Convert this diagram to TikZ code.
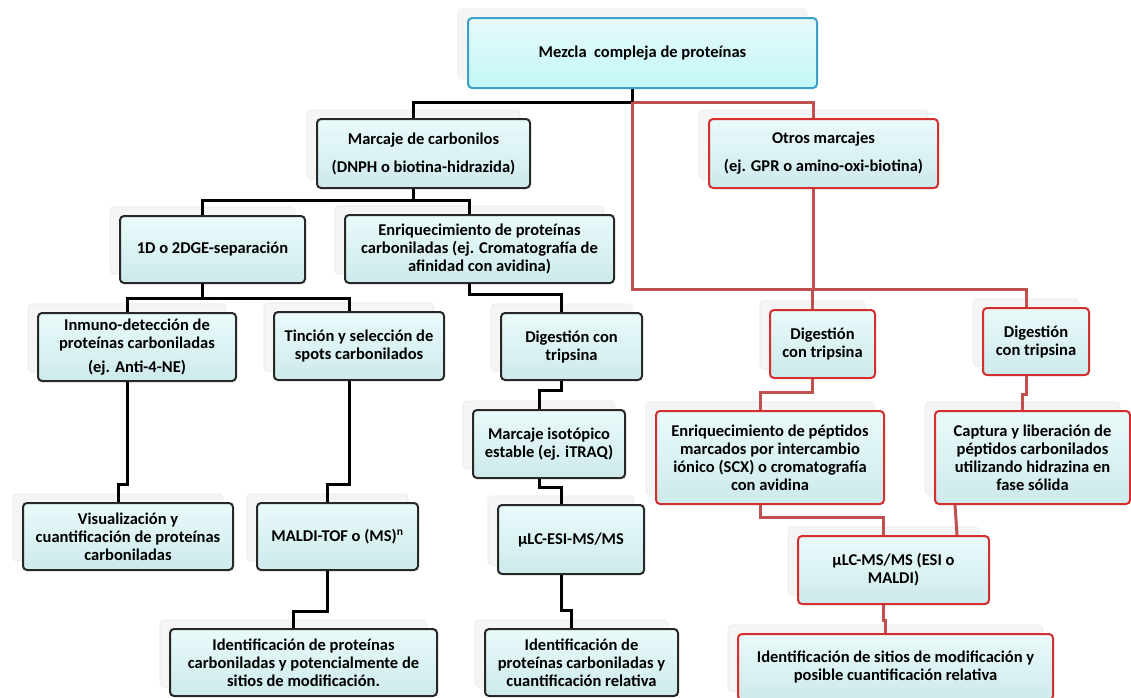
\documentclass[tikz,border=0pt]{standalone}
\usepackage{fontspec}
\setmainfont{Carlito}
\usetikzlibrary{shadows,calc}

\definecolor{celeste}{RGB}{216,246,247}
\definecolor{bordegris}{RGB}{40,40,40}
\definecolor{borderojo}{RGB}{212,46,46}
\definecolor{bordeazul}{RGB}{60,160,200}
\definecolor{linearoja}{RGB}{192,80,77}

\tikzset{
  caja/.style={draw=bordegris, line width=2pt, rounded corners=4pt,
    top color=celeste!55!white, bottom color=celeste!95!black!100, anchor=north west,
    inner sep=0pt, align=center, font=\fontsize{16.5}{18}\selectfont\bfseries,
    copy shadow={shadow xshift=-10pt, shadow yshift=9pt, draw=black!9,
      fill=black!4, line width=0.6pt}},
  cajaroja/.style={caja, draw=borderojo},
  cajaazul/.style={caja, draw=bordeazul, top color=celeste!60!white,
    bottom color=celeste!90!cyan},
  linea/.style={line width=3pt, line join=miter},
  linearoja/.style={linea, draw=linearoja}
}

\begin{document}
\begin{tikzpicture}[x=1pt, y=-1pt]
  \useasboundingbox[fill=white] (0,0) rectangle (1131,697);

  % nivel 0
  \node[cajaazul, minimum width=349, minimum height=70] (mezcla) at (467,17) {Mezcla \ compleja de prote\'inas};

  % nivel 1
  \node[caja, minimum width=213, minimum height=69] (marcaje) at (316,118) {Marcaje de carbonilos\\[10pt](DNPH o biotina-hidrazida)};
  \node[cajaroja, minimum width=229, minimum height=69] (otros) at (708,118) {Otros marcajes\\[10pt](ej. GPR o amino-oxi-biotina)};

  % nivel 2
  \node[caja, minimum width=185, minimum height=67] (separacion) at (119,215) {1D o 2DGE-separaci\'on};
  \node[caja, minimum width=269, minimum height=68] (enriq) at (344,214) {Enriquecimiento de prote\'inas\\carboniladas (ej. Cromatograf\'ia de\\afinidad con avidina)};

  % nivel 3
  \node[caja, minimum width=198, minimum height=68] (inmuno) at (37,312) {Inmuno-detecci\'on de\\prote\'inas carboniladas\\[6pt](ej. Anti-4-NE)};
  \node[caja, minimum width=170, minimum height=68] (tincion) at (273,311) {Tinci\'on y selecci\'on de\\spots carbonilados};
  \node[caja, minimum width=141, minimum height=67] (digA) at (500,312) {Digesti\'on con\\tripsina};
  \node[cajaroja, minimum width=105, minimum height=68] (digB) at (769,309) {Digesti\'on\\con tripsina};
  \node[cajaroja, minimum width=106, minimum height=67] (digC) at (982,307) {Digesti\'on\\con tripsina};

  % nivel 4
  \node[caja, minimum width=152, minimum height=68] (isotopico) at (472,409) {Marcaje isot\'opico\\estable (ej. iTRAQ)};
  \node[cajaroja, minimum width=228, minimum height=93] (enriqpep) at (655,410) {Enriquecimiento de p\'eptidos\\marcados por intercambio\\i\'onico (SCX) o cromatograf\'ia\\con avidina};
  \node[cajaroja, minimum width=195, minimum height=93] (captura) at (934,410) {Captura y liberaci\'on de\\p\'eptidos carbonilados\\utilizando hidrazina en\\fase s\'olida};

  % nivel 5
  \node[caja, minimum width=210, minimum height=67] (visual) at (22,502) {Visualizaci\'on y\\cuantificaci\'on de prote\'inas\\carboniladas};
  \node[caja, minimum width=161, minimum height=67] (maldi) at (256,502) {MALDI-TOF o (MS)\textsuperscript{n}};
  \node[caja, minimum width=146, minimum height=69] (lcesi) at (497,504) {µLC-ESI-MS/MS};
  \node[cajaroja, minimum width=191, minimum height=68] (lcms) at (797,535) {µLC-MS/MS (ESI o\\MALDI)};

  % nivel 6
  \node[caja, minimum width=267, minimum height=67] (identA) at (169,628) {Identificaci\'on de prote\'inas\\carboniladas y potencialmente de\\sitios de modificaci\'on.};
  \node[caja, minimum width=193, minimum height=67] (identB) at (484,628) {Identificaci\'on de\\prote\'inas carboniladas y\\cuantificaci\'on relativa};
  \node[cajaroja, minimum width=315, minimum height=66] (identC) at (737,633) {Identificaci\'on de sitios de modificaci\'on y\\posible cuantificaci\'on relativa};

  % conectores negros
  \coordinate (nudo) at ($(mezcla.south)+(-10,13)$);
  \draw[linea] ([xshift=-10pt]mezcla.south) -- (nudo) -| ([xshift=-10pt]marcaje.north);
  \draw[linea] ([xshift=-10pt]marcaje.south) -- ++(0,11) -| ([xshift=-10pt]separacion.north);
  \draw[linea] ([xshift=-10pt]marcaje.south) -- ++(0,11) -| ([xshift=-10pt]enriq.north);
  \draw[linea] ([xshift=-10pt]separacion.south) -- ++(0,14) -| ([xshift=-10pt]inmuno.north);
  \draw[linea] ([xshift=-10pt]separacion.south) -- ++(0,14) -| ([xshift=-10pt]tincion.north);
  \draw[linea] ([xshift=-10pt]enriq.south) -- ++(0,10) -| ([xshift=-10pt]digA.north);
  \draw[linea] ([xshift=-10pt]inmuno.south) -- ++(0,102) -| ([xshift=-10pt]visual.north);
  \draw[linea] ([xshift=-10pt]tincion.south) -- ++(0,103) -| ([xshift=-10pt]maldi.north);
  \draw[linea] ([xshift=-10pt]maldi.south) -- ++(0,40) -| ([xshift=-10pt]identA.north);
  \draw[linea] ([xshift=-10pt]digA.south) -- ++(0,9) -| ([xshift=-10pt]isotopico.north);
  \draw[linea] ([xshift=-10pt]isotopico.south) -- ++(0,8) -| ([xshift=-10pt]lcesi.north);
  \draw[linea] ([xshift=-10pt]lcesi.south) -- ++(0,35) -| ([xshift=-10pt]identB.north);

  % conectores rojos
  \draw[linearoja] (nudo) -| ([xshift=-10pt]otros.north);
  \draw[linearoja] (nudo) -- ++(0,187) -| ([xshift=-10pt]digC.north);
  \draw[linearoja] ([xshift=-10pt]otros.south) -- ++(0,100) -| ([xshift=-10pt]digB.north);
  \draw[linearoja] ([xshift=-10pt]digB.south) -- ++(0,13) -| ([xshift=-10pt]enriqpep.north);
  \draw[linearoja] ([xshift=-10pt]digC.south) -- ++(0,18) -| ([xshift=-10pt]captura.north);
  \draw[linearoja] ([xshift=-10pt]enriqpep.south) -- ++(0,12) -| ([xshift=-10pt]lcms.north);
  \draw[linearoja] ([xshift=21pt]captura.south west) -- ([xshift=-33pt]lcms.north east);
  \draw[linearoja] ([xshift=-10pt]lcms.south) -- ++(0,15) -| ([xshift=-10pt]identC.north);
\end{tikzpicture}
\end{document}
